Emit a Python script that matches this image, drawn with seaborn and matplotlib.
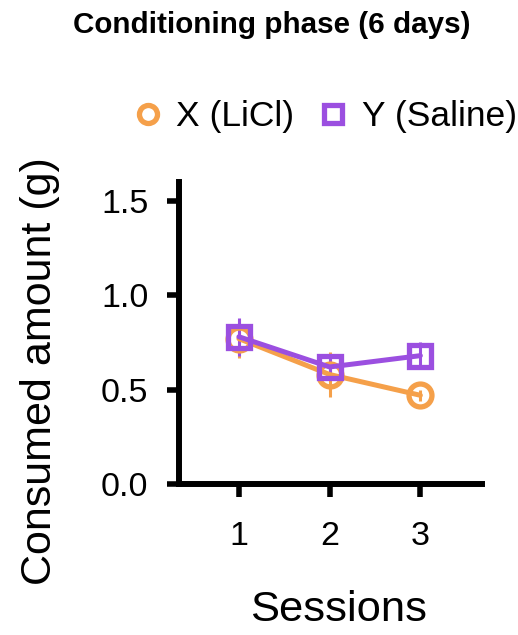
import matplotlib
matplotlib.use("Agg")
import matplotlib.pyplot as plt
import seaborn as sns
import pandas as pd
from matplotlib.lines import Line2D

sessions = [1, 2, 3]
groups = ["X (LiCl)", "Y (Saline)"]
x_mean = [0.77, 0.58, 0.47]
x_err = [0.10, 0.12, 0.03]
y_mean = [0.78, 0.62, 0.68]
y_err = [0.10, 0.06, 0.07]
colors = ["#F5A04A", "#9B4FE0"]
markers = ["o", "s"]

df = pd.DataFrame({
    "Session": sessions * 2,
    "Amount": x_mean + y_mean,
    "Err": x_err + y_err,
    "Group": [groups[0]] * 3 + [groups[1]] * 3,
})

sns.set_theme(style="ticks")
plt.rcParams["font.family"] = ["Liberation Sans", "DejaVu Sans"]
plt.rcParams["text.color"] = "black"
plt.rcParams["xtick.color"] = "black"
plt.rcParams["ytick.color"] = "black"
plt.rcParams["xtick.labelcolor"] = "black"
plt.rcParams["ytick.labelcolor"] = "black"

fig = plt.figure(figsize=(5.18, 6.35), dpi=100)
ax = fig.add_axes([0.3456, 0.2378, 0.585, 0.4756])

lw = 3.6
for g, c, m in zip(groups, colors, markers):
    sub = df[df["Group"] == g]
    ax.errorbar(sub["Session"], sub["Amount"], yerr=sub["Err"], fmt="none",
                ecolor=c, elinewidth=2.2, capsize=0, zorder=2)
sns.lineplot(data=df, x="Session", y="Amount", hue="Group", style="Group",
             markers=dict(zip(groups, markers)), dashes=False,
             palette=dict(zip(groups, colors)), linewidth=lw, markersize=16.5,
             markerfacecolor="none", markeredgewidth=3.8, ax=ax, legend=False,
             zorder=3)
for line, c in zip(ax.lines[-2:], colors):
    line.set_markeredgecolor(c)
    line.set_markerfacecolor("none")

ax.set_xlim(0.34, 3.68)
ax.set_ylim(0, 1.6)
ax.set_xticks(sessions)
ax.set_yticks([0.0, 0.5, 1.0, 1.5])
ax.set_yticklabels(["0.0", "0.5", "1.0", "1.5"])
ax.tick_params(axis="both", labelsize=24.5, width=4, length=9, color="black",
               labelcolor="black")
ax.tick_params(axis="x", pad=18)
ax.tick_params(axis="y", pad=13)
for s in ["top", "right"]:
    ax.spines[s].set_visible(False)
for s in ["left", "bottom"]:
    ax.spines[s].set_linewidth(4.3)
    ax.spines[s].set_color("black")
ax.set_xlabel("")
ax.set_ylabel("")

fig.text(40 / 518, 1 - 371 / 635, "Consumed amount (g)", rotation=90,
         fontsize=31, ha="center", va="center", color="black")
fig.text(339 / 518, 1 - 610 / 635, "Sessions", fontsize=31.3,
         ha="center", va="center", color="black")
fig.text(271.5 / 518, 1 - 25 / 635, "Conditioning phase (6 days)",
         fontsize=21.3, fontweight="bold", ha="center", va="center", color="black")

handles = [Line2D([], [], linestyle="none", marker=m, markersize=13,
                  markerfacecolor="none", markeredgecolor=c, markeredgewidth=3.8)
           for m, c in zip(markers, colors)]
leg = fig.legend(handles, groups, loc="center", bbox_to_anchor=(326 / 518, 1 - 117 / 635),
                 ncol=2, frameon=False, fontsize=25.5, handlelength=0.7,
                 handletextpad=0.45, columnspacing=0.75)
for t in leg.get_texts():
    t.set_color("black")

fig.savefig("out.png", dpi=100)
